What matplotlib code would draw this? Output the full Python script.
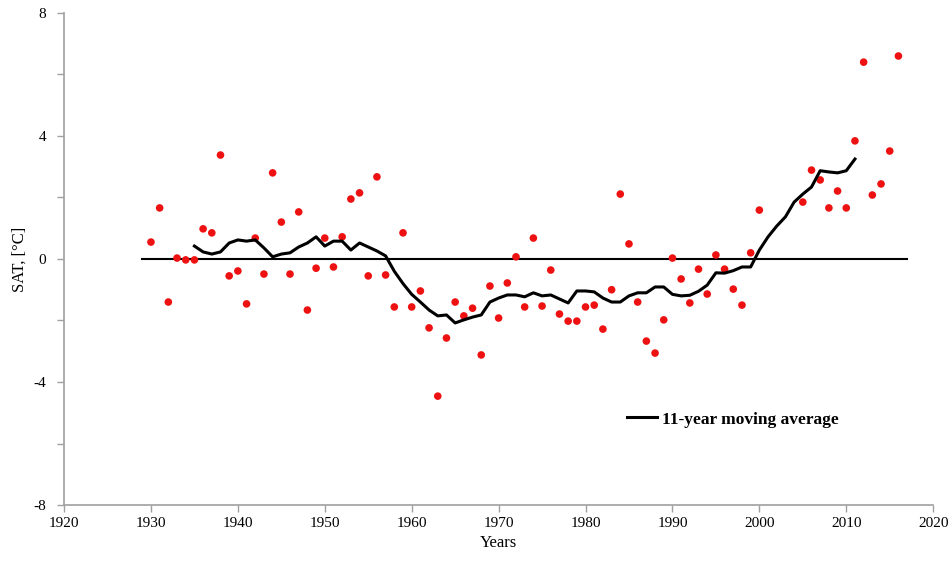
import matplotlib
matplotlib.use("Agg")
import matplotlib.pyplot as plt
import numpy as np

years = list(range(1930, 2001)) + list(range(2005, 2017))
sat = [0.55, 1.66, -1.4, 0.03, -0.03, -0.03, 0.98, 0.85, 3.38, -0.55,
       -0.39, -1.46, 0.68, -0.49, 2.8, 1.2, -0.49, 1.53, -1.66, -0.3,
       0.68, -0.26, 0.72, 1.95, 2.15, -0.55, 2.67, -0.52, -1.56, 0.85,
       -1.56, -1.04, -2.24, -4.46, -2.57, -1.4, -1.85, -1.6, -3.12, -0.88,
       -1.92, -0.78, 0.07, -1.56, 0.68, -1.53, -0.36, -1.79, -2.02, -2.02,
       -1.56, -1.5, -2.28, -1.0, 2.11, 0.49, -1.4, -2.67, -3.06, -1.98,
       0.03, -0.65, -1.43, -0.33, -1.14, 0.13, -0.33, -0.98, -1.5, 0.2,
       1.59,
       1.85, 2.89, 2.57, 1.66, 2.21, 1.66, 3.84, 6.4, 2.08, 2.44, 3.51, 6.6]

ma_years = list(range(1935, 2012))
ma = [0.42, 0.23, 0.16, 0.23, 0.52, 0.62, 0.58, 0.62, 0.36, 0.07,
      0.16, 0.2, 0.39, 0.52, 0.72, 0.42, 0.58, 0.58, 0.29, 0.52,
      0.39, 0.26, 0.1, -0.4, -0.8, -1.15, -1.4, -1.66, -1.85, -1.82,
      -2.08, -1.98, -1.89, -1.82, -1.4, -1.27, -1.17, -1.17, -1.23, -1.1,
      -1.2, -1.17, -1.3, -1.43, -1.04, -1.04, -1.07, -1.27, -1.4, -1.4,
      -1.2, -1.1, -1.1, -0.91, -0.91, -1.15, -1.2, -1.18, -1.05, -0.85,
      -0.45, -0.46, -0.38, -0.26, -0.26, 0.29, 0.72, 1.07, 1.37, 1.85,
      2.11, 2.34, 2.87, 2.83, 2.8, 2.87, 3.25]

zero_x = [1929, 2017]
zero_y = [0, 0]

xticks = list(range(1920, 2021, 10))
yticks = [-8, -4, 0, 4, 8]

plt.rcParams['font.family'] = ['Liberation Serif', 'DejaVu Serif']
plt.rcParams['axes.unicode_minus'] = False

fig = plt.figure(figsize=(9.53, 5.63), dpi=100)
ax = fig.add_axes([0.0672, 0.103, 0.912, 0.874])

ax.plot(zero_x, zero_y, color='black', lw=1.5, zorder=2)
ax.scatter(years, sat, s=30, color='#ee1111', edgecolors='none', zorder=3)
ax.plot(ma_years, ma, color='black', lw=2.2, zorder=4, label='11-year moving average')

ax.set_xlim(1920, 2020)
ax.set_ylim(-8, 8)
ax.set_xticks(xticks)
ax.set_yticks(yticks)
ax.set_yticks([-6, -2, 2, 6], minor=True)
ax.tick_params(axis='both', which='both', direction='out', color='#a0a0a0',
               labelsize=11, width=1)
ax.tick_params(axis='both', which='major', length=5)
ax.tick_params(axis='y', which='minor', length=5)
ax.tick_params(axis='y', which='major', pad=8)

for s in ['top', 'right']:
    ax.spines[s].set_visible(False)
for s in ['left', 'bottom']:
    ax.spines[s].set_color('#a0a0a0')
    ax.spines[s].set_linewidth(1.2)

ax.set_xlabel('Years', fontsize=12)
ax.set_ylabel('SAT, [°C]', fontsize=12)

leg = ax.legend(loc='upper left', bbox_to_anchor=(0.63, 0.222), frameon=False,
                prop={'weight': 'bold', 'size': 12.5}, handlelength=1.7,
                handletextpad=0.3)

fig.savefig('out.png', dpi=100)
